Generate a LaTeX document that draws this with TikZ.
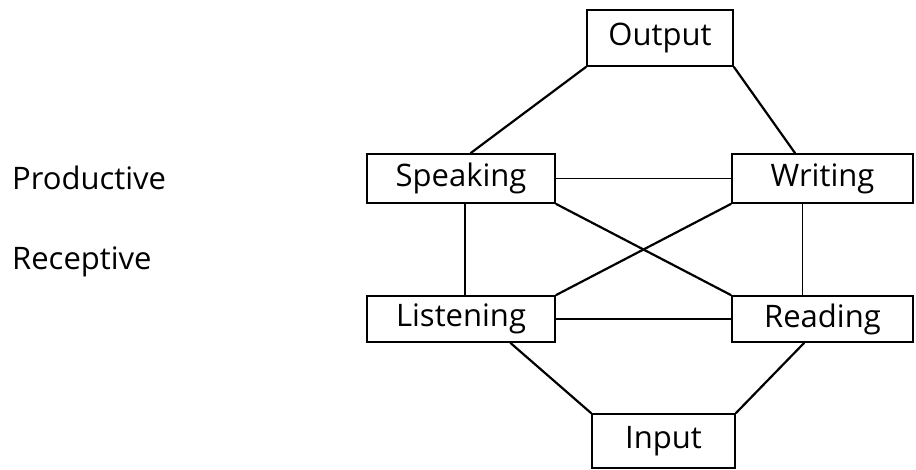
\documentclass[tikz,border=0pt]{standalone}
\usepackage{fontspec}
\setmainfont{Open Sans}
\usetikzlibrary{calc}
\begin{document}
\begin{tikzpicture}[x=1pt,y=-1pt,
  box/.style={draw,line width=1.6pt,rectangle,inner sep=0pt,font=\fontsize{31}{34}\selectfont},
  lbl/.style={font=\fontsize{31}{34}\selectfont,anchor=west,inner sep=0pt},
  link/.style={line width=2.2pt},
  thin/.style={line width=1.5pt}]
\useasboundingbox (0,0) rectangle (916,470);
\node[box,minimum width=146pt,minimum height=56pt] (out) at (660,38) {Output};
\node[box,minimum width=188pt,minimum height=49pt] (sp) at (461,178.5) {Speaking};
\node[box,minimum width=181pt,minimum height=49pt] (wr) at (822.5,178.5) {Writing};
\node[box,minimum width=188pt,minimum height=46pt] (li) at (461,319) {Listening};
\node[box,minimum width=181pt,minimum height=46pt] (re) at (822.5,319) {Reading};
\node[box,minimum width=143pt,minimum height=54pt] (in) at (663.5,441) {Input};
\node[lbl] (prod) at (12,178) {Productive};
\node[lbl] (rec) at (12,262) {Receptive};
\draw[link] (out.south west) -- ($(sp.north west)!0.55!(sp.north east)$);
\draw[link] (out.south east) -- ($(wr.north west)!0.35!(wr.north east)$);
\draw[thin] (sp.east) -- (wr.west);
\draw[thin] ($(sp.south west)!0.52!(sp.south east)$) -- ($(li.north west)!0.52!(li.north east)$);
\draw[thin] ($(wr.south west)!0.39!(wr.south east)$) -- ($(re.north west)!0.39!(re.north east)$);
\draw[link] (sp.south east) -- (re.north west);
\draw[link] (wr.south west) -- (li.north east);
\draw[thin] (li.east) -- (re.west);
\draw[link] ($(li.south west)!0.76!(li.south east)$) -- (in.north west);
\draw[link] ($(re.south west)!0.40!(re.south east)$) -- (in.north east);
\end{tikzpicture}
\end{document}
